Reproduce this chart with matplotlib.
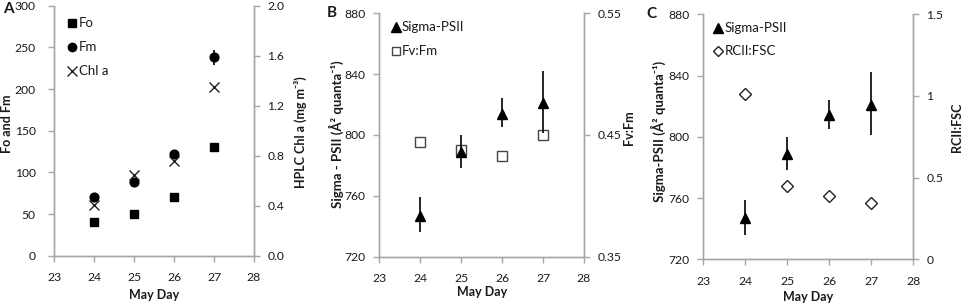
import matplotlib
matplotlib.use("Agg")
import matplotlib.pyplot as plt

plt.rcParams['font.family'] = ['Lato', 'DejaVu Sans']

days = [24, 25, 26, 27]
xticks = [23, 24, 25, 26, 27, 28]

# Panel A
fo = [40, 50, 70, 131]
fo_err = [1, 1, 1, 1]
fm = [70, 88, 122, 238]
fm_err = [2, 2, 3, 9]
chla = [0.41, 0.65, 0.76, 1.35]

# Panel B / C
sigma = [747, 789, 814, 821]
sigma_lo = [11, 11, 9, 20]
sigma_hi = [12, 11, 10, 21]
fvfm = [0.444, 0.438, 0.433, 0.45]
fvfm_err = [0.004, 0.004, 0.003, 0.003]
rcii = [1.01, 0.45, 0.385, 0.345]

GRAY = '#a6a6a6'
TXT = '#1a1a1a'
FS_TICK = 8.7
FS_LAB = 9
FS_LEG = 9.5

fig = plt.figure(figsize=(9.64, 3.07), dpi=100)

def style(ax, twin, lpad, xlab_y):
    for a in (ax, twin):
        a.spines['top'].set_visible(False)
        for sp in ['left', 'bottom', 'right']:
            a.spines[sp].set_color(GRAY)
            a.spines[sp].set_linewidth(1.0)
    ax.tick_params(axis='both', direction='out', color=GRAY, length=4, width=1,
                   labelsize=FS_TICK, labelcolor=TXT)
    ax.tick_params(axis='x', pad=8)
    ax.tick_params(axis='y', pad=lpad)
    twin.tick_params(axis='y', direction='out', color=GRAY, length=4, width=1,
                     labelsize=FS_TICK, labelcolor=TXT, pad=5.5)
    ax.set_xlim(23, 28)
    ax.set_xticks(xticks)
    ax.set_xlabel('May Day', fontsize=FS_LAB, fontweight='bold', color=TXT)
    ax.xaxis.label.set_va('center')
    ax.xaxis.set_label_coords(0.5, xlab_y)

def ylab(ax, text, x, y, fs=FS_LAB):
    ax.set_ylabel(text, fontsize=fs, fontweight='bold', color=TXT)
    ax.yaxis.label.set_va('center')
    ax.yaxis.label.set_ha('center')
    ax.yaxis.set_label_coords(x, y)

# ---------- Panel A ----------
axA = fig.add_axes([0.0563, 0.167, 0.2072, 0.814])
axA2 = axA.twinx()
style(axA, axA2, 9.5, -0.157)
axA.set_ylim(0, 300)
axA.set_yticks([0, 50, 100, 150, 200, 250, 300])
axA2.set_ylim(0, 2.0)
axA2.set_yticks([0, 0.4, 0.8, 1.2, 1.6, 2.0])
axA2.set_yticklabels(['0.0', '0.4', '0.8', '1.2', '1.6', '2.0'])
axA.errorbar(days, fo, yerr=fo_err, fmt='s', color='black', ms=6, elinewidth=1, capsize=0, zorder=3)
axA.errorbar(days, fm, yerr=fm_err, fmt='o', color='black', ms=6.3, elinewidth=1.2, capsize=0, zorder=3)
axA2.plot(days, chla, 'x', color='#222222', ms=7.5, mew=1.0, zorder=3)
ylab(axA, 'Fo and Fm', -0.237, 0.527)
ylab(axA2, 'HPLC Chl a (mg m⁻³)', 1.234, 0.493)
axA.plot([23.44], [279.6], 's', color='black', ms=5.5, clip_on=False)
axA.plot([23.44], [250.4], 'o', color='black', ms=6, clip_on=False)
axA.plot([23.44], [222], 'x', color='#222222', ms=6.5, mew=1.0, clip_on=False)
axA.text(23.62, 279.6, 'Fo', fontsize=FS_LEG, va='center', color=TXT)
axA.text(23.62, 250.4, 'Fm', fontsize=FS_LEG, va='center', color=TXT)
axA.text(23.62, 222, 'Chl a', fontsize=FS_LEG, va='center', color=TXT)
fig.text(0.003, 0.971, 'A', fontsize=11, fontweight='bold', color=TXT, va='center')

# ---------- Panel B ----------
axB = fig.add_axes([0.3935, 0.1638, 0.2123, 0.793])
axB2 = axB.twinx()
style(axB, axB2, 6, -0.145)
axB.set_ylim(720, 880)
axB.set_yticks([720, 760, 800, 840, 880])
axB2.set_ylim(0.35, 0.55)
axB2.set_yticks([0.35, 0.45, 0.55])
axB2.errorbar(days, fvfm, yerr=fvfm_err, fmt='s', mfc='white', mec='#444444', color='#444444',
              ms=6.5, mew=1.0, elinewidth=1, capsize=0, zorder=3)
axB.errorbar(days, sigma, yerr=[sigma_lo, sigma_hi], fmt='^', color='black', ms=7,
             elinewidth=1.2, capsize=0, zorder=4)
axB.set_zorder(axB2.get_zorder() + 1)
axB.patch.set_visible(False)
ylab(axB, 'Sigma - PSII (Å² quanta⁻¹)', -0.21, 0.504, fs=9.5)
ylab(axB2, 'Fv:Fm', 1.22, 0.53)
axB.plot([23.41], [870.8], '^', color='black', ms=6.5, clip_on=False)
axB.plot([23.41], [855.2], 's', mfc='white', mec='#444444', ms=6, mew=1.0, clip_on=False)
axB.text(23.55, 870.8, 'Sigma-PSII', fontsize=FS_LEG, va='center', color=TXT)
axB.text(23.55, 855.2, 'Fv:Fm', fontsize=FS_LEG, va='center', color=TXT)
fig.text(0.339, 0.958, 'B', fontsize=11, fontweight='bold', color=TXT, va='center')

# ---------- Panel C ----------
axC = fig.add_axes([0.7296, 0.1554, 0.2178, 0.798])
axC2 = axC.twinx()
style(axC, axC2, 6, -0.152)
axC.set_ylim(720, 880)
axC.set_yticks([720, 760, 800, 840, 880])
axC2.set_ylim(0, 1.5)
axC2.set_yticks([0, 0.5, 1, 1.5])
axC2.set_yticklabels(['0', '0.5', '1', '1.5'])
axC2.plot(days, rcii, 'D', mfc='white', mec='#222222', ms=6, mew=1.0, zorder=3)
axC.errorbar(days, sigma, yerr=[sigma_lo, sigma_hi], fmt='^', color='black', ms=7,
             elinewidth=1.2, capsize=0, zorder=4)
axC.set_zorder(axC2.get_zorder() + 1)
axC.patch.set_visible(False)
ylab(axC, 'Sigma-PSII (Å² quanta⁻¹)', -0.216, 0.52, fs=9.5)
ylab(axC2, 'RCII:FSC', 1.207, 0.54)
axC.plot([23.34], [870.9], '^', color='black', ms=6.5, clip_on=False)
axC.plot([23.34], [856], 'D', mfc='white', mec='#222222', ms=5, mew=1.0, clip_on=False)
axC.text(23.5, 870.9, 'Sigma-PSII', fontsize=FS_LEG, va='center', color=TXT)
axC.text(23.5, 856, 'RCII:FSC', fontsize=FS_LEG, va='center', color=TXT)
fig.text(0.671, 0.954, 'C', fontsize=11, fontweight='bold', color=TXT, va='center')

fig.savefig('out.png', dpi=100)
